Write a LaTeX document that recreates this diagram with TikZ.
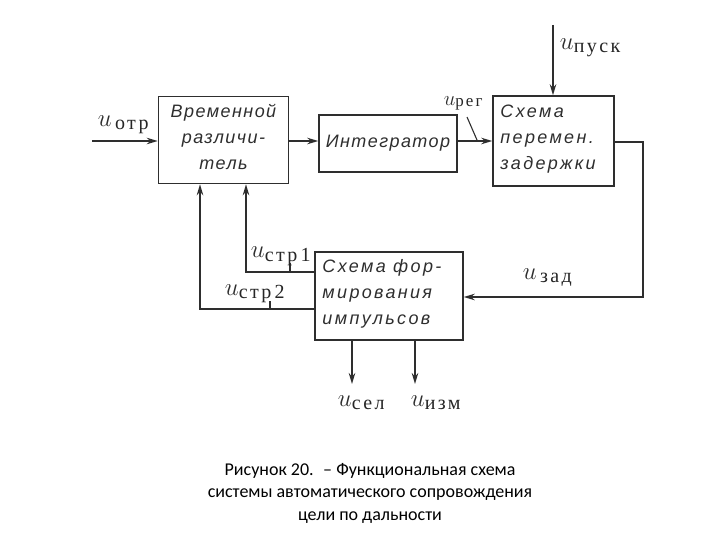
\documentclass[tikz,border=0pt]{standalone}
\usepackage{fontspec}
\setmainfont{Liberation Serif}
\newfontfamily\hand{Liberation Sans}[LetterSpace=8]
\newfontfamily\handw{Liberation Sans}[LetterSpace=13]
\newfontfamily\subf{Liberation Serif}[LetterSpace=12]
\newfontfamily\capfont{Carlito}
\usetikzlibrary{arrows.meta,calc}
\definecolor{ink}{HTML}{2E2E2E}
\newcommand{\sigU}[2]{{\fontsize{24}{24}\selectfont$u$}\raisebox{-3pt}{\subf\fontsize{20}{20}\selectfont\color{black!85} #2}}
\begin{document}
\begin{tikzpicture}[x=1pt,y=-1pt,
  line width=1.8pt, draw=ink,
  blk/.style={draw=ink, line width=1.5pt, minimum width=#1, inner sep=0pt},
  lbl/.style={text=ink, font=\hand\itshape\fontsize{18}{29}\selectfont},
  lblw/.style={text=ink, font=\handw\itshape\fontsize{18}{29}\selectfont},
  arr/.style={-{Stealth[length=11pt,width=6.5pt]}},
  sig/.style={text=ink, inner sep=0pt, anchor=base west}]
\useasboundingbox (0,0) rectangle (720,540);
% blocks
\node[blk=130pt, minimum height=87pt] (b1) at (223.5,140) {};
\node[blk=138pt, minimum height=57pt] (b2) at (388,143.5) {};
\node[blk=121pt, minimum height=90pt] (b3) at (553.5,141) {};
\node[blk=148pt, minimum height=88pt] (b4) at (389,296) {};
% block texts
\node[lbl, align=center] (t1) at ($(b1.center)+(0,-3)$) {Временной\\[-3pt]различи-\\[-3pt]тель};
\node[lbl] (t2) at (b2.center) {Интегратор};
\node[lblw, align=left, anchor=west] (t3) at ($(b3.west)+(4,-2)$) {Схема\\[-3pt]перемен.\\[-3pt]задержки};
\node[lblw, align=left, anchor=west] (t4) at ($(b4.west)+(4,-2)$) {Схема фор-\\[-3pt]мирования\\[-3pt]импульсов};
% coordinates
\coordinate (in) at (92,141);
\coordinate (pusk) at (553,25);
\coordinate (r1) at (643,142);
\coordinate (r2) at (643,297);
\coordinate (s1) at (246,272);
\coordinate (s2) at (200,309);
\coordinate (o1) at (352,384);
\coordinate (o2) at (415,384);
% connectors
\draw[arr] (in) -- (b1.west |- in);
\draw[arr] (b1.east |- in) -- (b2.west |- in);
\draw[arr] (b2.east |- in) -- (b3.west |- in);
\draw[arr] (pusk) -- (b3.north -| pusk);
\draw[arr] (b3.east |- r1) -- (r1) -- (r2) -- (b4.east |- r2);
\draw[arr] (b4.west |- s1) -- (s1) -- (b1.south -| s1);
\draw[arr] (b4.west |- s2) -- (s2) -- (b1.south -| s2);
\draw[arr] (b4.south -| o1) -- (o1);
\draw[arr] (b4.south -| o2) -- (o2);
% leader ticks
\coordinate (k1a) at (467,117);
\coordinate (k1b) at (477,140);
\draw[line width=1.1pt] (k1a) -- (k1b);
\coordinate (k2a) at (290,263);
\coordinate (k2b) at (290,272);
\draw[line width=1.1pt] (k2a) -- (k2b);
\coordinate (k3a) at (270,301);
\coordinate (k3b) at (270,309);
\draw[line width=1.1pt] (k3a) -- (k3b);
% signal labels
\node[sig] (lotr) at (97,127) {\sigU{}{\,отр}};
\node[sig] (lpusk) at (559,50) {\sigU{}{пуск}};
\node[sig] (lreg) at (443,106) {{\fontsize{20}{20}\selectfont$u$}\raisebox{-1pt}{\subf\fontsize{17}{17}\selectfont\color{black!85} рег}};
\node[sig] (lstr1) at (250,258) {\sigU{}{стр\,1}};
\node[sig] (lstr2) at (224,295) {\sigU{}{стр\,2}};
\node[sig] (lzad) at (522,279) {\sigU{}{\,зад}};
\node[sig] (lsel) at (337,406) {\sigU{}{сел}};
\node[sig] (lizm) at (410,406) {\sigU{}{изм}};
% caption
\node[text=black, align=center, font=\capfont\fontsize{18}{22.5}\selectfont] (cap) at (370,493)
  {Рисунок 20. \ – Функциональная схема\\системы автоматического сопровождения\\цели по дальности};
\end{tikzpicture}
\end{document}
